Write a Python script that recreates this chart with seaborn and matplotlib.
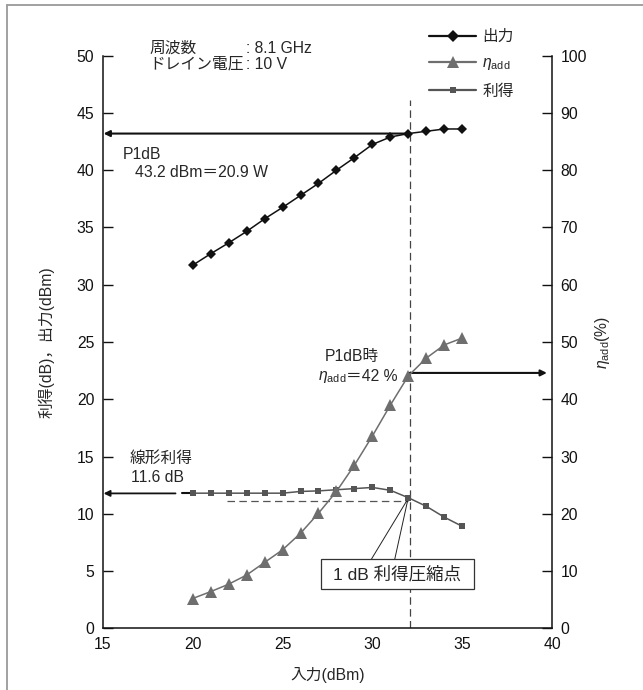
import matplotlib
matplotlib.use("Agg")
import matplotlib.pyplot as plt
from matplotlib.lines import Line2D
from matplotlib.patches import Rectangle
import seaborn as sns
import pandas as pd

# ---- data ----
input_dbm = [20, 21, 22, 23, 24, 25, 26, 27, 28, 29, 30, 31, 32, 33, 34, 35]
output_dbm = [31.7, 32.7, 33.65, 34.65, 35.75, 36.75, 37.8, 38.85, 40.0, 41.1,
              42.25, 42.9, 43.2, 43.4, 43.6, 43.6]
eta_add = [5.2, 6.4, 7.7, 9.3, 11.5, 13.7, 16.6, 20.1, 23.9, 28.5,
           33.6, 39.0, 44.1, 47.2, 49.5, 50.7]
gain_db = [11.8, 11.8, 11.8, 11.8, 11.8, 11.8, 11.95, 12.0, 12.1, 12.2,
           12.3, 12.05, 11.4, 10.65, 9.7, 8.9]
x_ticks = [15, 20, 25, 30, 35, 40]
left_ticks = [0, 5, 10, 15, 20, 25, 30, 35, 40, 45, 50]
right_ticks = [0, 10, 20, 30, 40, 50, 60, 70, 80, 90, 100]
legend_labels = ["出力", r"$\eta_{\mathrm{add}}$", "利得"]

df = pd.DataFrame({"input": input_dbm, "output": output_dbm,
                   "eta": eta_add, "gain": gain_db})

sns.set_style("white")
plt.rcParams["font.family"] = ["Liberation Sans", "Noto Sans CJK JP", "DejaVu Sans"]
plt.rcParams["mathtext.fontset"] = "custom"
plt.rcParams["mathtext.rm"] = "Liberation Sans"
plt.rcParams["mathtext.it"] = "Liberation Sans:italic"

FS = 11.3
C_OUT = "#111111"
C_ETA = "#6e6e6e"
C_GAIN = "#555555"

fig = plt.figure(figsize=(6.43, 6.9), dpi=100)
ax = fig.add_axes([0.1597, 0.0894, 0.6992, 0.8299])
ax2 = ax.twinx()

sns.lineplot(data=df, x="input", y="output", ax=ax, color=C_OUT, lw=1.1,
             marker="D", markersize=5.4, markeredgewidth=0, zorder=4)
sns.lineplot(data=df, x="input", y="gain", ax=ax, color=C_GAIN, lw=1.1,
             marker="s", markersize=5, markeredgewidth=0, zorder=4)
sns.lineplot(data=df, x="input", y="eta", ax=ax2, color=C_ETA, lw=1.1,
             marker="^", markersize=8, markeredgewidth=0, zorder=4)

ax.set_xlim(15, 40)
ax.set_ylim(0, 50)
ax2.set_ylim(0, 100)
ax.set_xticks(x_ticks)
ax.set_yticks(left_ticks)
ax2.set_yticks(right_ticks)
ax.set_xlabel("入力(dBm)", fontsize=FS, labelpad=11)
ax.set_ylabel("利得(dB)，出力(dBm)", fontsize=FS, labelpad=16)
ax2.set_ylabel(r"$\eta_{\mathrm{add}}$(%)", fontsize=FS, labelpad=4)

for a in (ax, ax2):
    a.spines["top"].set_visible(False)
    for s in ("left", "right", "bottom"):
        a.spines[s].set_linewidth(1.1)
        a.spines[s].set_color("#111111")
    a.tick_params(direction="in", length=7, width=1, labelsize=FS, pad=6,
                  colors="#111111")
    a.grid(False)
ax2.spines["left"].set_visible(False)
ax2.spines["bottom"].set_visible(False)
ax.spines["right"].set_visible(False)

# vertical dashed P1dB line
ax.plot([32.07, 32.07], [0, 46.1], color="#444444", lw=0.9, ls=(0, (6, 3.5)), zorder=2)
# horizontal dashed at gain compression
ax.plot([21.9, 32.0], [11.15, 11.15], color="#555555", lw=0.9, ls=(0, (6, 3.5)), zorder=2)

arrow = dict(arrowstyle="-|>", color="#111111", lw=1.5, mutation_scale=9,
             shrinkA=0, shrinkB=0)
ax.annotate("", xy=(15.05, 43.2), xytext=(32.07, 43.2), arrowprops=arrow, zorder=3)
ax.annotate("", xy=(39.7, 22.3), xytext=(32.07, 22.3), arrowprops=arrow, zorder=3)
ax.annotate("", xy=(15.05, 11.78), xytext=(19.05, 11.78),
            arrowprops=dict(arrow, lw=1.3), zorder=3)
ax.plot([19.4, 20.0], [11.78, 11.78], color="#111111", lw=1.5, zorder=3)

# texts
ax.text(17.6, 50.65, "周波数", fontsize=FS, va="center", ha="left")
ax.text(22.95, 50.65, ": 8.1 GHz", fontsize=FS, va="center", ha="left")
ax.text(17.6, 49.25, "ドレイン電圧", fontsize=FS, va="center", ha="left")
ax.text(22.95, 49.25, ": 10 V", fontsize=FS, va="center", ha="left")

ax.text(16.1, 41.4, "P1dB", fontsize=FS, va="center", ha="left")
ax.text(16.8, 39.8, "43.2 dBm＝20.9 W", fontsize=FS, va="center", ha="left")

ax.text(28.85, 23.72, "P1dB時", fontsize=FS, va="center", ha="center")
ax.text(28.55, 21.97, r"$\eta_{\mathrm{add}}$", fontsize=FS, va="center", ha="right")
ax.text(28.55, 21.97, "＝42 %", fontsize=FS, va="center", ha="left")

ax.text(16.5, 14.85, "線形利得", fontsize=FS, va="center", ha="left")
ax.text(16.55, 13.19, "11.6 dB", fontsize=FS, va="center", ha="left")

# 1dB compression callout
ax.plot([31.98, 29.94], [11.32, 6.03], color="#222222", lw=0.7, zorder=3)
ax.plot([31.98, 31.24], [11.32, 6.03], color="#222222", lw=0.7, zorder=3)
ax.add_patch(Rectangle((27.13, 3.4), 8.5, 2.63, fc="white", ec="#333333",
                       lw=0.9, zorder=5))
ax.text(31.38, 4.72, "1 dB 利得圧縮点", fontsize=12.6, va="center", ha="center", zorder=6)

# legend
handles = [
    Line2D([], [], color=C_OUT, lw=1.6, marker="D", markersize=6, markeredgewidth=0),
    Line2D([], [], color=C_ETA, lw=1.6, marker="^", markersize=8, markeredgewidth=0),
    Line2D([], [], color=C_GAIN, lw=1.6, marker="s", markersize=5, markeredgewidth=0),
]
fig.legend(handles, legend_labels, loc="upper left",
           bbox_to_anchor=(429 / 643, 1 - 29 / 690), frameon=False,
           fontsize=FS, handlelength=3.0, handletextpad=0.4, labelspacing=0.72,
           borderpad=0, borderaxespad=0)

# outer frame (left and top)
fig.add_artist(Line2D([6.5 / 643, 6.5 / 643], [0, 1 - 4.7 / 690],
                      transform=fig.transFigure, color="#9a9a9a", lw=1.3))
fig.add_artist(Line2D([6.5 / 643, 1], [1 - 4.7 / 690, 1 - 4.7 / 690],
                      transform=fig.transFigure, color="#9a9a9a", lw=1.3))

fig.savefig("out.png", dpi=100)
